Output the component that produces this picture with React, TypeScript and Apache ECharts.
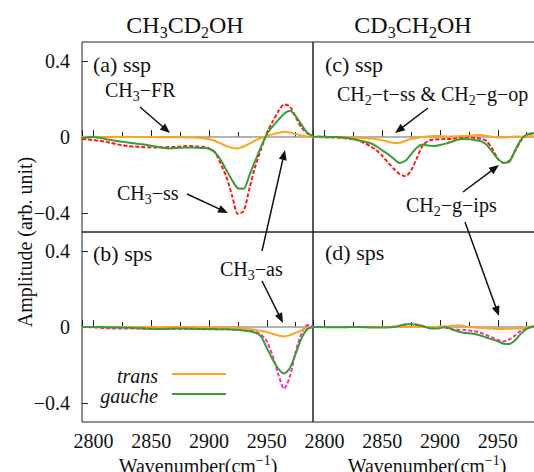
import React, { useEffect, useRef } from 'react';
import * as echarts from 'echarts';

const FONT = '"Liberation Serif","Times New Roman",serif';

// x values (cm^-1)
const wavenumber = [
  2790, 2795, 2800, 2805, 2810, 2815, 2820, 2825, 2830, 2835,
  2840, 2845, 2850, 2855, 2860, 2865, 2870, 2875, 2880, 2885,
  2890, 2895, 2900, 2905, 2910, 2915, 2920, 2925, 2930, 2935,
  2940, 2945, 2950, 2955, 2960, 2965, 2970, 2975, 2980, 2985,
  2990,
];
const baselineX = [2790, 2990];
const baselineY = [0, 0];

// (a) CH3CD2OH ssp
const aTrans = [
  0, 0, 0, 0, 0, 0, 0, 0, 0, 0,
  0, 0, 0, -0.001, -0.001, -0.001, -0.001, -0.001, -0.002, -0.003,
  -0.004, -0.007, -0.012, -0.02, -0.034, -0.048, -0.057, -0.06, -0.05, -0.035,
  -0.018, -0.005, 0.005, 0.014, 0.022, 0.028, 0.024, 0.016, 0.008, 0.003,
  0.001,
];
const aGauche = [
  -0.005, -0.002, 0, -0.004, -0.01, -0.016, -0.021, -0.025, -0.029, -0.033,
  -0.037, -0.041, -0.046, -0.051, -0.057, -0.06, -0.058, -0.056, -0.055, -0.055,
  -0.056, -0.058, -0.062, -0.08, -0.12, -0.175, -0.228, -0.27, -0.272, -0.2,
  -0.125, -0.052, 0.015, 0.055, 0.09, 0.122, 0.138, 0.11, 0.065, 0.022,
  0.005,
];
const aTotal = [
  -0.01, -0.013, -0.016, -0.02, -0.025, -0.031, -0.038, -0.044, -0.048, -0.05,
  -0.052, -0.054, -0.055, -0.055, -0.054, -0.053, -0.052, -0.05, -0.048, -0.048,
  -0.05, -0.052, -0.06, -0.08, -0.14, -0.21, -0.31, -0.405, -0.39, -0.27,
  -0.155, -0.065, 0.02, 0.08, 0.135, 0.172, 0.16, 0.105, 0.05, 0.02,
  0.005,
];

// (b) CH3CD2OH sps
const bTrans = [
  0, 0, 0, 0, 0, 0, 0, 0, 0, 0,
  0, 0, 0, 0, 0, 0, 0, 0, 0, 0,
  -0.001, -0.001, -0.002, -0.002, -0.003, -0.003, -0.004, -0.006, -0.008, -0.01,
  -0.015, -0.02, -0.026, -0.036, -0.045, -0.05, -0.043, -0.03, -0.018, -0.006,
  0,
];
const bGauche = [
  0, 0, 0, 0, -0.001, -0.002, -0.003, -0.003, -0.004, -0.005,
  -0.006, -0.008, -0.009, -0.01, -0.01, -0.009, -0.008, -0.008, -0.008, -0.009,
  -0.01, -0.01, -0.01, -0.011, -0.012, -0.012, -0.013, -0.015, -0.018, -0.022,
  -0.03, -0.05, -0.11, -0.17, -0.22, -0.245, -0.216, -0.14, -0.06, -0.012,
  0,
];
const bTotal = [
  0, 0, -0.002, -0.004, -0.006, -0.007, -0.008, -0.008, -0.008, -0.008,
  -0.009, -0.01, -0.01, -0.01, -0.01, -0.01, -0.01, -0.01, -0.01, -0.011,
  -0.011, -0.012, -0.012, -0.012, -0.012, -0.012, -0.013, -0.015, -0.018, -0.02,
  -0.025, -0.04, -0.075, -0.15, -0.25, -0.325, -0.26, -0.13, -0.035, 0.01,
  0.005,
];

// (c) CD3CH2OH ssp
const cTrans = [
  0, 0, 0, 0, 0, -0.001, -0.002, -0.003, -0.004, -0.006,
  -0.008, -0.012, -0.017, -0.024, -0.031, -0.03, -0.02, -0.011, -0.005, 0,
  0.003, 0.006, 0.005, 0.003, 0.003, 0.004, 0.005, 0.007, 0.009, 0.01,
  0.006, 0.001, -0.003, -0.003, 0, 0.002, 0.003, 0.003, 0.004, 0.004,
  0.004,
];
const cGauche = [
  0, 0.002, 0.001, 0, 0, -0.002, -0.005, -0.01, -0.018, -0.025,
  -0.033, -0.05, -0.07, -0.09, -0.115, -0.137, -0.125, -0.09, -0.055, -0.04,
  -0.045, -0.048, -0.042, -0.035, -0.025, -0.015, -0.01, -0.012, -0.016, -0.022,
  -0.04, -0.075, -0.115, -0.135, -0.13, -0.07, -0.015, 0.012, 0.02, 0.02,
  0.015,
];
const cTotal = [
  0, 0, -0.002, -0.002, -0.003, -0.005, -0.008, -0.012, -0.02, -0.033,
  -0.05, -0.07, -0.1, -0.135, -0.167, -0.195, -0.207, -0.175, -0.11, -0.045,
  -0.02, -0.013, -0.012, -0.01, -0.01, -0.006, -0.003, 0, -0.005, -0.01,
  -0.02, -0.06, -0.115, -0.137, -0.125, -0.075, -0.02, 0.01, 0.018, 0.02,
  0.015,
];

// (d) CD3CH2OH sps
const dTrans = [
  0, 0, 0, 0, 0, 0, 0, 0, 0, 0,
  0, 0, 0, 0, 0, 0, 0, 0, 0, 0,
  0, 0, 0.002, 0.003, 0.006, 0.009, 0.006, 0.001, -0.003, -0.005,
  -0.007, -0.008, -0.01, -0.01, -0.009, -0.008, -0.006, -0.003, 0, 0.001,
  0.001,
];
const dGauche = [
  0, 0, -0.001, -0.001, -0.001, -0.001, -0.001, 0, 0, -0.001,
  -0.002, -0.002, -0.003, -0.002, 0, 0.007, 0.013, 0.015, 0.012, 0.005,
  -0.005, -0.008, -0.006, 0, -0.012, -0.022, -0.03, -0.033, -0.037, -0.045,
  -0.055, -0.065, -0.075, -0.088, -0.09, -0.07, -0.035, -0.01, 0.003, 0.005,
  0.005,
];
const dTotal = [
  0, 0, 0, 0, 0, 0, 0, 0, 0, 0,
  0, 0, 0, 0, 0.002, 0.007, 0.013, 0.015, 0.012, 0.006,
  -0.002, -0.004, -0.001, -0.004, -0.011, -0.014, -0.015, -0.018, -0.022, -0.03,
  -0.042, -0.055, -0.068, -0.076, -0.065, -0.045, -0.018, -0.004, 0.002, 0.004,
  0.004,
];

const yTickValues = [-0.4, 0, 0.4];
const xLabelValues = [2800, 2850, 2900, 2950];

const ORANGE = '#ffa41b';
const GREEN = '#3b9b3b';
const RED = '#ff1a1a';
const MAGENTA = '#ff2ea6';

const pairs = (xs: number[], ys: number[]) => xs.map((x, i) => [x, ys[i]]);

const rich = (size: number, sub: number, pad: number) => ({
  n: { fontSize: size, fontFamily: FONT, lineHeight: size + 2, color: '#111' },
  s: { fontSize: sub, fontFamily: FONT, lineHeight: sub, padding: [pad, 0, 0, 0], color: '#111' },
  p: { fontSize: sub, fontFamily: FONT, lineHeight: sub, padding: [0, 0, pad, 0], color: '#111' },
});

function txt(x: number, y: number, text: string, size: number, align = 'left', extra: any = {}) {
  return {
    type: 'text',
    x,
    y,
    z: 100,
    ...extra,
    style: {
      text,
      rich: rich(size, Math.round(size * 0.68), Math.round(size * 0.62)),
      align,
      verticalAlign: 'middle',
      fontSize: size,
      fontFamily: FONT,
      fill: '#111',
    },
  };
}

function arrow(x1: number, y1: number, x2: number, y2: number) {
  const dx = x2 - x1;
  const dy = y2 - y1;
  const L = Math.hypot(dx, dy);
  const ux = dx / L;
  const uy = dy / L;
  const hl = 10;
  const hw = 4;
  const bx = x2 - ux * hl;
  const by = y2 - uy * hl;
  return [
    { type: 'line', z: 100, shape: { x1, y1, x2: bx + ux * 2, y2: by + uy * 2 }, style: { stroke: '#111', lineWidth: 1.5 } },
    {
      type: 'polygon',
      z: 100,
      shape: { points: [[x2, y2], [bx - uy * hw, by + ux * hw], [bx + uy * hw, by - ux * hw]] },
      style: { fill: '#111' },
    },
  ];
}

export default function App() {
  const ref = useRef<HTMLDivElement>(null);

  useEffect(() => {
    const chart = echarts.init(ref.current!, null, { renderer: 'svg' });

    const grids = [
      { left: 82, top: 42, width: 231, height: 190 },
      { left: 82, top: 232, width: 231, height: 190 },
      { left: 313, top: 42, width: 231, height: 190 },
      { left: 313, top: 232, width: 231, height: 190 },
    ].map((g) => ({
      ...g,
      show: true,
      borderColor: '#222',
      borderWidth: 1,
      backgroundColor: 'transparent',
      containLabel: false,
      outerBoundsMode: 'none',
    }));

    const xAxes = grids.map((_, i) => ({
      type: 'value',
      gridIndex: i,
      min: 2790,
      max: 2990,
      splitNumber: 4,
      axisLine: { show: false },
      splitLine: { show: false },
      axisTick: { show: true, inside: true, length: 7, lineStyle: { color: '#222', width: 1 } },
      minorTick: { show: true, splitNumber: 2, length: 5, lineStyle: { color: '#222', width: 1 } },
      minorSplitLine: { show: false },
      axisLabel: {
        show: i === 1 || i === 3,
        customValues: xLabelValues,
        fontSize: 20,
        fontFamily: FONT,
        color: '#111',
        margin: 9,
        formatter: (v: number) => String(v),
      },
    }));

    const yAxes = grids.map((_, i) => ({
      type: 'value',
      gridIndex: i,
      min: -0.5,
      max: 0.5,
      axisLine: { show: false },
      splitLine: { show: false },
      axisTick: { show: i < 2, inside: true, length: 6, customValues: yTickValues, lineStyle: { color: '#222' } },
      axisLabel: {
        show: i < 2,
        customValues: yTickValues,
        fontSize: 20,
        fontFamily: FONT,
        color: '#111',
        margin: 12,
        formatter: (v: number) => (v < 0 ? '\u2212' + Math.abs(v) : String(v)),
      },
    }));

    const panels = [
      { trans: aTrans, gauche: aGauche, total: aTotal, dash: RED },
      { trans: bTrans, gauche: bGauche, total: bTotal, dash: MAGENTA },
      { trans: cTrans, gauche: cGauche, total: cTotal, dash: RED },
      { trans: dTrans, gauche: dGauche, total: dTotal, dash: MAGENTA },
    ];

    const series: any[] = [];
    panels.forEach((p, i) => {
      const common = { type: 'line', xAxisIndex: i, yAxisIndex: i, showSymbol: false, symbol: 'none', silent: true };
      series.push({ ...common, name: 'zero', z: 1, data: pairs(baselineX, baselineY), lineStyle: { color: '#9a9a9a', width: 1.5 } });
      series.push({ ...common, name: 'total', z: 2, smooth: 0.25, data: pairs(wavenumber, p.total), lineStyle: { color: p.dash, width: 2, type: [4, 2] } });
      series.push({ ...common, name: 'trans', z: 3, smooth: 0.25, data: pairs(wavenumber, p.trans), lineStyle: { color: ORANGE, width: 2 } });
      series.push({ ...common, name: 'gauche', z: 4, smooth: 0.25, data: pairs(wavenumber, p.gauche), lineStyle: { color: GREEN, width: 2 } });
    });

    const graphic: any[] = [
      txt(185, 25, '{n|CH}{s|3}{n|CD}{s|2}{n|OH}', 24, 'center'),
      txt(413, 25, '{n|CD}{s|3}{n|CH}{s|2}{n|OH}', 24, 'center'),
      txt(93, 64, '(a) ssp', 22),
      txt(93, 253, '(b) sps', 22),
      txt(325, 64, '(c) ssp', 22),
      txt(325, 252, '(d) sps', 22),
      txt(105, 90, '{n|CH}{s|3}{n|\u2212FR}', 20),
      txt(117, 193, '{n|CH}{s|3}{n|\u2212ss}', 20),
      txt(220, 269, '{n|CH}{s|3}{n|\u2212as}', 20),
      txt(337, 94, '{n|CH}{s|2}{n|\u2212t\u2212ss & CH}{s|2}{n|\u2212g\u2212op}', 20),
      txt(406, 205, '{n|CH}{s|2}{n|\u2212g\u2212ips}', 20),
      ...arrow(140, 107, 170, 133),
      ...arrow(187, 194, 228, 213),
      ...arrow(262, 281, 283, 323),
      ...arrow(262, 251, 285, 150),
      ...arrow(428, 108, 395, 133),
      ...arrow(463, 192, 499, 165),
      ...arrow(465, 222, 499, 316),
      // legend
      {
        type: 'text', x: 158, y: 376, z: 100,
        style: { text: 'trans', align: 'right', verticalAlign: 'middle', fontSize: 20, fontFamily: FONT, fontStyle: 'italic', fill: '#111' },
      },
      {
        type: 'text', x: 158, y: 396, z: 100,
        style: { text: 'gauche', align: 'right', verticalAlign: 'middle', fontSize: 20, fontFamily: FONT, fontStyle: 'italic', fill: '#111' },
      },
      { type: 'line', z: 100, shape: { x1: 172, y1: 374, x2: 226, y2: 374 }, style: { stroke: ORANGE, lineWidth: 2 } },
      { type: 'line', z: 100, shape: { x1: 172, y1: 394, x2: 226, y2: 394 }, style: { stroke: GREEN, lineWidth: 2 } },
      // axis names
      txt(25, 242, 'Amplitude (arb. unit)', 20, 'center', { rotation: Math.PI / 2 }),
      txt(198, 466, '{n|Wavenumber(cm}{p|\u22121}{n|)}', 20, 'center'),
      txt(427, 466, '{n|Wavenumber(cm}{p|\u22121}{n|)}', 20, 'center'),
    ];

    chart.setOption({
      animation: false,
      backgroundColor: '#fff',
      grid: grids,
      xAxis: xAxes,
      yAxis: yAxes,
      series,
      graphic,
    });

    return () => chart.dispose();
  }, []);

  return (
    <div
      ref={ref}
      style={{ position: 'absolute', left: 0, top: 0, width: 534, height: 472, background: '#fff' }}
    />
  );
}
